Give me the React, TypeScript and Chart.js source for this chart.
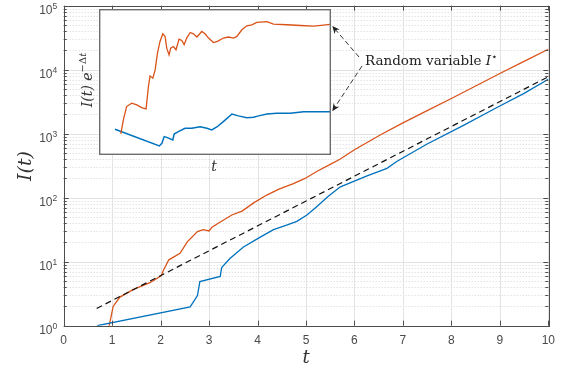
import React, { useEffect, useRef } from "react";
import { Chart, registerables } from "chart.js";

Chart.register(...registerables);

// ---------- data ----------
const xTickValues = [0, 1, 2, 3, 4, 5, 6, 7, 8, 9, 10];
const xTickLabels = ["0", "1", "2", "3", "4", "5", "6", "7", "8", "9", "10"];
const yDecadeValues = [1, 10, 100, 1000, 10000, 100000];
const yDecadeExponents = ["0", "1", "2", "3", "4", "5"];

const redT = [0.91, 0.94, 1.02, 1.16, 1.44, 1.78, 2.01, 2.06, 2.17, 2.4, 2.55, 2.76, 2.88, 3.0, 3.06, 3.23, 3.47, 3.68, 3.92, 4.19, 4.43, 4.74, 4.98, 5.22, 5.5, 5.7, 6.0, 6.53, 7.0, 7.5, 8.0, 8.5, 9.0, 9.5, 10.0];
const redI = [0.78, 1.0, 2.0, 2.8, 3.7, 4.7, 6.0, 7.4, 10.7, 13.5, 20.4, 29.5, 31.6, 30.2, 34.7, 41.7, 53.7, 61.7, 83, 110, 135, 166, 200, 257, 331, 398, 562, 955, 1480, 2290, 3550, 5560, 8710, 13500, 20900];

const blueT = [0.69, 2.61, 2.76, 2.81, 3.23, 3.26, 3.43, 3.71, 4.02, 4.33, 4.6, 4.81, 5.02, 5.22, 5.46, 5.71, 6.26, 6.67, 6.88, 7.5, 8.25, 8.94, 9.5, 10.0];
const blueI = [1.0, 1.97, 2.95, 4.9, 5.9, 8.1, 11.2, 17.0, 23.4, 31.6, 37.2, 42.7, 53.7, 72.4, 105, 148, 219, 288, 372, 690, 1350, 2570, 4270, 7080];

const refT = [0.68, 10.0];
const refI = [1.86, 7760];

// inset: I(t) e^{-Δt}, in relative units of the inset height (0 = bottom, 100 = top)
const insetRedT = [0.94, 1.05, 1.19, 1.41, 1.63, 1.84, 2.03, 2.13, 2.2, 2.32, 2.42, 2.52, 2.63, 2.75, 2.85, 2.92, 3.02, 3.09, 3.21, 3.32, 3.45, 3.57, 3.67, 3.78, 3.93, 4.07, 4.22, 4.43, 4.57, 4.72, 4.93, 5.11, 5.36, 5.58, 5.8, 5.94, 6.16, 6.37, 6.59, 6.8, 7.24, 7.52, 8.1, 8.68, 9.25, 9.68, 9.97];
const insetRedV = [14.4, 24.0, 33.2, 35.5, 34.3, 32.5, 31.6, 46.9, 54.2, 52.6, 58.3, 69.8, 77.8, 83.0, 81.2, 73.2, 68.6, 73.2, 74.3, 72.1, 79.4, 78.5, 75.5, 80.1, 83.9, 83.0, 80.8, 84.6, 83.0, 80.1, 77.0, 77.8, 80.1, 80.8, 80.1, 81.2, 85.8, 88.5, 89.2, 90.8, 91.3, 89.7, 89.2, 88.7, 88.3, 89.0, 89.4];
const insetBlueT = [0.69, 2.6, 2.71, 2.81, 2.92, 3.18, 3.24, 3.42, 3.71, 4.0, 4.36, 4.65, 4.86, 5.08, 5.36, 5.73, 6.01, 6.37, 6.66, 6.88, 7.24, 7.67, 8.24, 8.82, 9.4, 9.97];
const insetBlueV = [17.6, 6.2, 8.0, 12.6, 12.1, 10.3, 14.4, 16.0, 18.3, 18.3, 19.4, 18.3, 17.2, 19.2, 22.9, 28.1, 26.8, 25.6, 25.9, 26.8, 28.1, 28.6, 28.6, 29.7, 29.7, 29.7];

const annotationText = "Random variable ";
const annotationSymbol = "I";
const annotationStar = "\u22C6";

// ---------- layout / style ----------
const W = 563;
const H = 372;
const AREA = { left: 63.7, top: 5.7, right: 548.3, bottom: 325.7 };
const INSET = { left: 99, top: 9, width: 232, height: 146 };
const RED = "#D95319";
const BLUE = "#0072BD";
const AXIS = "#4d4d4d";
const LABEL = "#4a4a4a";
const SERIF = '"DejaVu Serif", serif';
const SANS = '"Liberation Sans", Arial, sans-serif';

const toXY = (t: number[], v: number[]) => t.map((x, i) => ({ x, y: v[i] }));

function drawArrow(ctx: CanvasRenderingContext2D, fx: number, fy: number, tx: number, ty: number) {
  const a = Math.atan2(ty - fy, tx - fx);
  const L = 7.5;
  const hw = 3.4;
  const bx = tx - L * 0.7 * Math.cos(a);
  const by = ty - L * 0.7 * Math.sin(a);
  ctx.save();
  ctx.strokeStyle = "#222";
  ctx.lineWidth = 0.9;
  ctx.setLineDash([5, 3]);
  ctx.beginPath();
  ctx.moveTo(fx, fy);
  ctx.lineTo(bx, by);
  ctx.stroke();
  ctx.setLineDash([]);
  ctx.fillStyle = "#222";
  const px = -Math.sin(a), py = Math.cos(a);
  const backX = tx - L * Math.cos(a), backY = ty - L * Math.sin(a);
  ctx.beginPath();
  ctx.moveTo(tx, ty);
  ctx.lineTo(backX + px * hw, backY + py * hw);
  ctx.lineTo(bx, by);
  ctx.lineTo(backX - px * hw, backY - py * hw);
  ctx.closePath();
  ctx.fill();
  ctx.restore();
}

type Part = { text: string; font: string; dy: number };
function drawParts(ctx: CanvasRenderingContext2D, parts: Part[], x: number, y: number, align: "center" | "left") {
  let total = 0;
  const widths = parts.map((p) => {
    ctx.font = p.font;
    const w = ctx.measureText(p.text).width;
    total += w;
    return w;
  });
  let cx = align === "center" ? x - total / 2 : x;
  ctx.textAlign = "left";
  ctx.textBaseline = "alphabetic";
  parts.forEach((p, i) => {
    ctx.font = p.font;
    ctx.fillText(p.text, cx, y + p.dy);
    cx += widths[i];
  });
}

export default function App() {
  const mainRef = useRef<HTMLCanvasElement | null>(null);
  const insetRef = useRef<HTMLCanvasElement | null>(null);

  useEffect(() => {
    document.body.style.margin = "0";
    if (!mainRef.current || !insetRef.current) return;

    const insetPlugin = {
      id: "insetDeco",
      beforeDraw(chart: any) {
        const ctx = chart.ctx;
        ctx.save();
        ctx.fillStyle = "#fff";
        ctx.fillRect(0, 0, chart.width, chart.height);
        ctx.restore();
      },
      afterDraw(chart: any) {
        const ctx = chart.ctx;
        ctx.save();
        ctx.strokeStyle = "#6e6e6e";
        ctx.lineWidth = 1.4;
        ctx.strokeRect(0.7, 0.7, chart.width - 1.4, chart.height - 1.4);
        ctx.restore();
      },
    };

    const inset = new Chart(insetRef.current, {
      type: "line",
      data: {
        datasets: [
          { data: toXY(insetRedT, insetRedV), borderColor: RED, borderWidth: 1.3, pointRadius: 0, fill: false },
          { data: toXY(insetBlueT, insetBlueV), borderColor: BLUE, borderWidth: 1.5, pointRadius: 0, fill: false },
        ],
      },
      options: {
        responsive: false,
        animation: false,
        devicePixelRatio: 1,
        layout: { padding: 0 },
        plugins: { legend: { display: false }, tooltip: { enabled: false } },
        scales: {
          x: { type: "linear", min: 0, max: 10, display: false },
          y: { type: "linear", min: 0, max: 100, display: false },
        },
      },
      plugins: [insetPlugin],
    } as any);

    const mainPlugin = {
      id: "mainDeco",
      beforeDraw(chart: any) {
        const ctx = chart.ctx;
        ctx.save();
        ctx.fillStyle = "#fff";
        ctx.fillRect(0, 0, chart.width, chart.height);
        ctx.restore();
      },
      beforeDatasetsDraw(chart: any) {
        const ctx = chart.ctx;
        const xs = chart.scales.x;
        const ys = chart.scales.y;
        const { left, right, top, bottom } = chart.chartArea;
        ctx.save();
        // minor y grid (dotted)
        ctx.strokeStyle = "#d6d6d6";
        ctx.lineWidth = 1;
        ctx.setLineDash([1, 2]);
        for (let d = 0; d < yDecadeValues.length - 1; d++) {
          for (let m = 2; m <= 9; m++) {
            const y = Math.round(ys.getPixelForValue(yDecadeValues[d] * m)) + 0.5;
            ctx.beginPath();
            ctx.moveTo(left, y);
            ctx.lineTo(right, y);
            ctx.stroke();
          }
        }
        ctx.setLineDash([]);
        // major grid
        ctx.strokeStyle = "#e3e3e3";
        xTickValues.forEach((v) => {
          const x = Math.round(xs.getPixelForValue(v)) + 0.5;
          ctx.beginPath();
          ctx.moveTo(x, top);
          ctx.lineTo(x, bottom);
          ctx.stroke();
        });
        yDecadeValues.forEach((v) => {
          const y = Math.round(ys.getPixelForValue(v)) + 0.5;
          ctx.beginPath();
          ctx.moveTo(left, y);
          ctx.lineTo(right, y);
          ctx.stroke();
        });
        ctx.restore();
      },
      afterDatasetsDraw(chart: any) {
        const ctx = chart.ctx;
        const xs = chart.scales.x;
        const ys = chart.scales.y;
        const { left, right, top, bottom } = chart.chartArea;
        ctx.save();
        // frame
        ctx.strokeStyle = AXIS;
        ctx.lineWidth = 1;
        ctx.strokeRect(Math.round(left) + 0.5, Math.round(top) + 0.5, Math.round(right - left), Math.round(bottom - top));
        // x ticks
        xTickValues.forEach((v) => {
          const x = Math.round(xs.getPixelForValue(v)) + 0.5;
          ctx.beginPath();
          ctx.moveTo(x, bottom);
          ctx.lineTo(x, bottom - 5);
          ctx.moveTo(x, top);
          ctx.lineTo(x, top + 5);
          ctx.stroke();
        });
        // y ticks
        for (let d = 0; d < yDecadeValues.length; d++) {
          const y = Math.round(ys.getPixelForValue(yDecadeValues[d])) + 0.5;
          ctx.beginPath();
          ctx.moveTo(left, y);
          ctx.lineTo(left + 5, y);
          ctx.moveTo(right, y);
          ctx.lineTo(right - 5, y);
          ctx.stroke();
          if (d < yDecadeValues.length - 1) {
            for (let m = 2; m <= 9; m++) {
              const ym = Math.round(ys.getPixelForValue(yDecadeValues[d] * m)) + 0.5;
              ctx.beginPath();
              ctx.moveTo(left, ym);
              ctx.lineTo(left + 3, ym);
              ctx.moveTo(right, ym);
              ctx.lineTo(right - 3, ym);
              ctx.stroke();
            }
          }
        }
        // x tick labels
        ctx.fillStyle = LABEL;
        ctx.font = `12px ${SANS}`;
        ctx.textAlign = "center";
        ctx.textBaseline = "alphabetic";
        xTickValues.forEach((v, i) => {
          ctx.fillText(xTickLabels[i], xs.getPixelForValue(v), bottom + 18);
        });
        // y tick labels 10^n
        yDecadeValues.forEach((v, i) => {
          const y = ys.getPixelForValue(v);
          ctx.font = `8.5px ${SANS}`;
          const ew = ctx.measureText(yDecadeExponents[i]).width;
          ctx.textAlign = "right";
          ctx.fillText(yDecadeExponents[i], left - 6.5, y + 3);
          ctx.font = `12px ${SANS}`;
          ctx.fillText("10", left - 6.5 - ew, y + 8.6);
        });
        // axis titles
        ctx.fillStyle = "#333";
        ctx.font = `italic 18px ${SERIF}`;
        ctx.textAlign = "center";
        ctx.fillText("t", (left + right) / 2, 363);
        ctx.save();
        ctx.translate(31, 166);
        ctx.rotate(-Math.PI / 2);
        ctx.font = `italic 19px ${SERIF}`;
        ctx.fillText("I(t)", 0, 0);
        ctx.restore();

        // inset labels
        ctx.save();
        ctx.translate(INSET.left - 7, INSET.top + INSET.height / 2 - 2);
        ctx.rotate(-Math.PI / 2);
        ctx.fillStyle = "#333";
        drawParts(
          ctx,
          [
            { text: "I(t)", font: `italic 14px ${SERIF}`, dy: 0 },
            { text: " e", font: `italic 14px ${SERIF}`, dy: 0 },
            { text: "\u2212\u0394", font: `10px ${SERIF}`, dy: -6 },
            { text: "t", font: `italic 10px ${SERIF}`, dy: -6 },
          ],
          0,
          0,
          "center"
        );
        ctx.restore();
        ctx.fillStyle = "#333";
        ctx.font = `italic 14px ${SERIF}`;
        ctx.textAlign = "center";
        ctx.fillText("t", INSET.left + INSET.width / 2 - 1, INSET.top + INSET.height + 16);

        // annotation
        ctx.fillStyle = "#222";
        drawParts(
          ctx,
          [
            { text: annotationText, font: `13.5px ${SERIF}`, dy: 0 },
            { text: annotationSymbol, font: `italic 13.5px ${SERIF}`, dy: 0 },
            { text: annotationStar, font: `10px "DejaVu Sans", sans-serif`, dy: -5.5 },
          ],
          365,
          65,
          "left"
        );
        // arrows to inset end points
        const ix = inset.scales.x;
        const iy = inset.scales.y;
        const rEnd = INSET.left + ix.getPixelForValue(insetRedT[insetRedT.length - 1]) + 1;
        const rY = INSET.top + iy.getPixelForValue(insetRedV[insetRedV.length - 1]);
        const bY = INSET.top + iy.getPixelForValue(insetBlueV[insetBlueV.length - 1]);
        drawArrow(ctx, 359, 57, rEnd + 1, rY + 1.5);
        drawArrow(ctx, 362, 66, rEnd + 1, bY - 0.5);
        ctx.restore();
      },
    };

    const main = new Chart(mainRef.current, {
      type: "line",
      data: {
        datasets: [
          { data: toXY(refT, refI), borderColor: "#111", borderWidth: 1.2, borderDash: [6, 4], pointRadius: 0, fill: false },
          { data: toXY(blueT, blueI), borderColor: BLUE, borderWidth: 1.3, pointRadius: 0, fill: false },
          { data: toXY(redT, redI), borderColor: RED, borderWidth: 1.3, pointRadius: 0, fill: false },
        ],
      },
      options: {
        responsive: false,
        animation: false,
        devicePixelRatio: 1,
        layout: { padding: { left: AREA.left, top: AREA.top, right: W - AREA.right, bottom: H - AREA.bottom } },
        plugins: { legend: { display: false }, tooltip: { enabled: false } },
        scales: {
          x: { type: "linear", min: 0, max: 10, display: false },
          y: { type: "logarithmic", min: 1, max: 100000, display: false },
        },
      },
      plugins: [mainPlugin],
    } as any);

    return () => {
      main.destroy();
      inset.destroy();
    };
  }, []);

  return (
    <div style={{ position: "relative", width: W, height: H, overflow: "hidden" }}>
      <canvas ref={mainRef} width={W} height={H} style={{ position: "absolute", left: 0, top: 0, width: W, height: H }} />
      <canvas
        ref={insetRef}
        width={INSET.width}
        height={INSET.height}
        style={{ position: "absolute", left: INSET.left, top: INSET.top, width: INSET.width, height: INSET.height }}
      />
    </div>
  );
}
